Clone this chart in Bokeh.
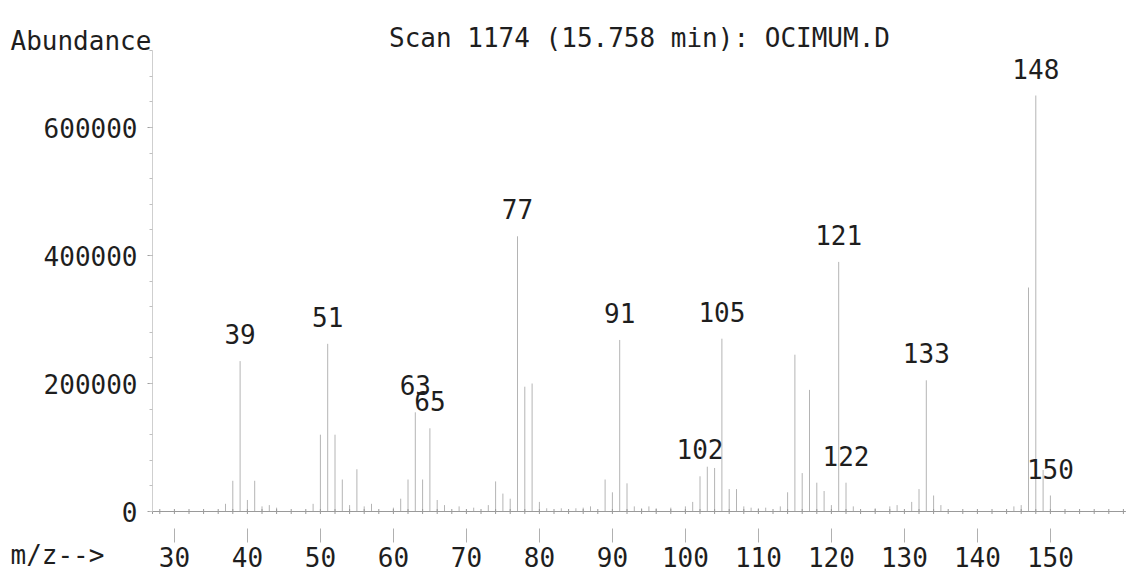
from bokeh.plotting import figure
from bokeh.models import ColumnDataSource, Label, SingleIntervalTicker, FixedTicker, Range1d
from bokeh.core.properties import value
from bokeh.embed import file_html
from bokeh.resources import INLINE

# ---- data ----
mz = [37, 38, 39, 40, 41, 42, 43, 44,
      49, 50, 51, 52, 53, 54, 55, 56, 57,
      60, 61, 62, 63, 64, 65, 66, 67, 69,
      71, 73, 74, 75, 76, 77, 78, 79, 80, 81, 83,
      85, 86, 87, 89, 90, 91, 92, 93, 94,
      95, 96, 98, 100, 101, 102, 103, 104, 105, 106, 107, 108, 109,
      110, 111, 113, 114, 115, 116, 117, 118, 119, 120, 121, 122, 123,
      126, 128, 129, 131, 132, 133, 134, 135,
      145, 146, 147, 148, 149, 150]
abundance = [12000, 48000, 235000, 18000, 48000, 8000, 10000, 6000,
             12000, 120000, 262000, 120000, 50000, 10000, 66000, 8000, 12000,
             6000, 20000, 50000, 155000, 50000, 130000, 18000, 10000, 8000,
             6000, 10000, 47000, 28000, 20000, 430000, 195000, 200000, 15000, 5000, 5000,
             5000, 6000, 8000, 50000, 30000, 268000, 44000, 8000, 5000,
             8000, 5000, 6000, 8000, 15000, 55000, 70000, 68000, 270000, 35000, 35000, 8000, 6000,
             5000, 6000, 8000, 30000, 245000, 60000, 190000, 45000, 32000, 10000, 390000, 45000, 8000,
             5000, 8000, 10000, 15000, 35000, 205000, 25000, 10000,
             8000, 10000, 350000, 650000, 65000, 25000]

labeled_mz = [39, 51, 63, 65, 77, 91, 102, 105, 121, 122, 133, 148, 150]

x_ticks = [30, 40, 50, 60, 70, 80, 90, 100, 110, 120, 130, 140, 150]
baseline_x = [27] + list(range(28, 161, 2))

title_text = "Scan 1174 (15.758 min): OCIMUM.D"
y_title = "Abundance"
x_title = "m/z-->"

# ---- layout constants (pixels of the printout) ----
W, H = 1138, 579
PX_PER_MZ = 7.3
PX_PER_ABUND = 0.00064
AXIS_X_PX = 152      # where m/z 27 (the y axis) sits
ZERO_Y_PX = 511      # where abundance 0 sits (from top)

x0 = 27 - AXIS_X_PX / PX_PER_MZ
x1 = x0 + W / PX_PER_MZ
y1 = ZERO_Y_PX / PX_PER_ABUND
y0 = -(H - ZERO_Y_PX) / PX_PER_ABUND

FONT = "DejaVu Sans Mono"
TXT = "#1e1e1e"

peak_src = ColumnDataSource(dict(x=mz, y0=[0] * len(mz), y1=abundance))
lab_y = [abundance[mz.index(m)] for m in labeled_mz]
lab_src = ColumnDataSource(dict(x=labeled_mz, y=lab_y, t=[str(m) for m in labeled_mz]))
base_src = ColumnDataSource(dict(x=baseline_x, y=[0] * len(baseline_x)))

p = figure(width=W, height=H, output_backend="svg", toolbar_location=None, title=None,
           x_range=Range1d(x0, x1), y_range=Range1d(y0, y1),
           min_border_left=0, min_border_right=0, min_border_top=0, min_border_bottom=0)

p.grid.visible = False
p.outline_line_color = None
p.background_fill_color = "white"
p.border_fill_color = "white"

# peaks
p.segment(x0="x", y0="y0", x1="x", y1="y1", source=peak_src,
          line_color="#b4b4b4", line_width=1)

# baseline with its small tick marks
p.line(x="x", y="y", source=base_src, line_color="#9a9a9a", line_width=1)
p.scatter(x="x", y="y", source=base_src, marker="cross", size=5,
          line_color="#9a9a9a", line_width=1)

# peak labels
p.text(x="x", y="y", text="t", source=lab_src, text_align="center",
       text_baseline="bottom", y_offset=-17, text_font=value(FONT),
       text_font_size="26px", text_color=TXT)

# y axis (fixed inside the canvas, like the printout)
ya = p.yaxis[0]
ya.fixed_location = 27
ya.bounds = (0, 720000)
ya.ticker = SingleIntervalTicker(interval=200000, num_minor_ticks=5)
ya.axis_line_color = "#cfcfcf"
ya.major_tick_line_color = "#a0a0a0"
ya.minor_tick_line_color = "#c0c0c0"
ya.major_tick_in = 0
ya.major_tick_out = 5
ya.minor_tick_in = 0
ya.minor_tick_out = 3
ya.major_label_standoff = 10
ya.major_label_text_font = FONT
ya.major_label_text_font_size = "26px"
ya.major_label_text_color = TXT
ya.formatter.use_scientific = False

# x axis
xa = p.xaxis[0]
xa.fixed_location = -26600
xa.ticker = FixedTicker(ticks=x_ticks)
xa.axis_line_color = None
xa.major_tick_line_color = "#b0b0b0"
xa.minor_tick_line_color = None
xa.major_tick_in = 0
xa.major_tick_out = 14
xa.major_label_standoff = 4
xa.major_label_text_font = FONT
xa.major_label_text_font_size = "26px"
xa.major_label_text_color = TXT

# texts of the printout
p.add_layout(Label(x=x0 + 639 / PX_PER_MZ, y=(ZERO_Y_PX - 37) / PX_PER_ABUND, text=title_text,
                   text_align="center", text_baseline="middle",
                   text_font=FONT, text_font_size="26px", text_color=TXT))
p.add_layout(Label(x=x0 + 10 / PX_PER_MZ, y=(ZERO_Y_PX - 40) / PX_PER_ABUND, text=y_title,
                   text_baseline="middle",
                   text_font=FONT, text_font_size="26px", text_color=TXT))
p.add_layout(Label(x=x0 + 10 / PX_PER_MZ, y=(ZERO_Y_PX - 554) / PX_PER_ABUND, text=x_title,
                   text_baseline="middle",
                   text_font=FONT, text_font_size="26px", text_color=TXT))

open("out.html", "w").write(file_html(p, INLINE))
